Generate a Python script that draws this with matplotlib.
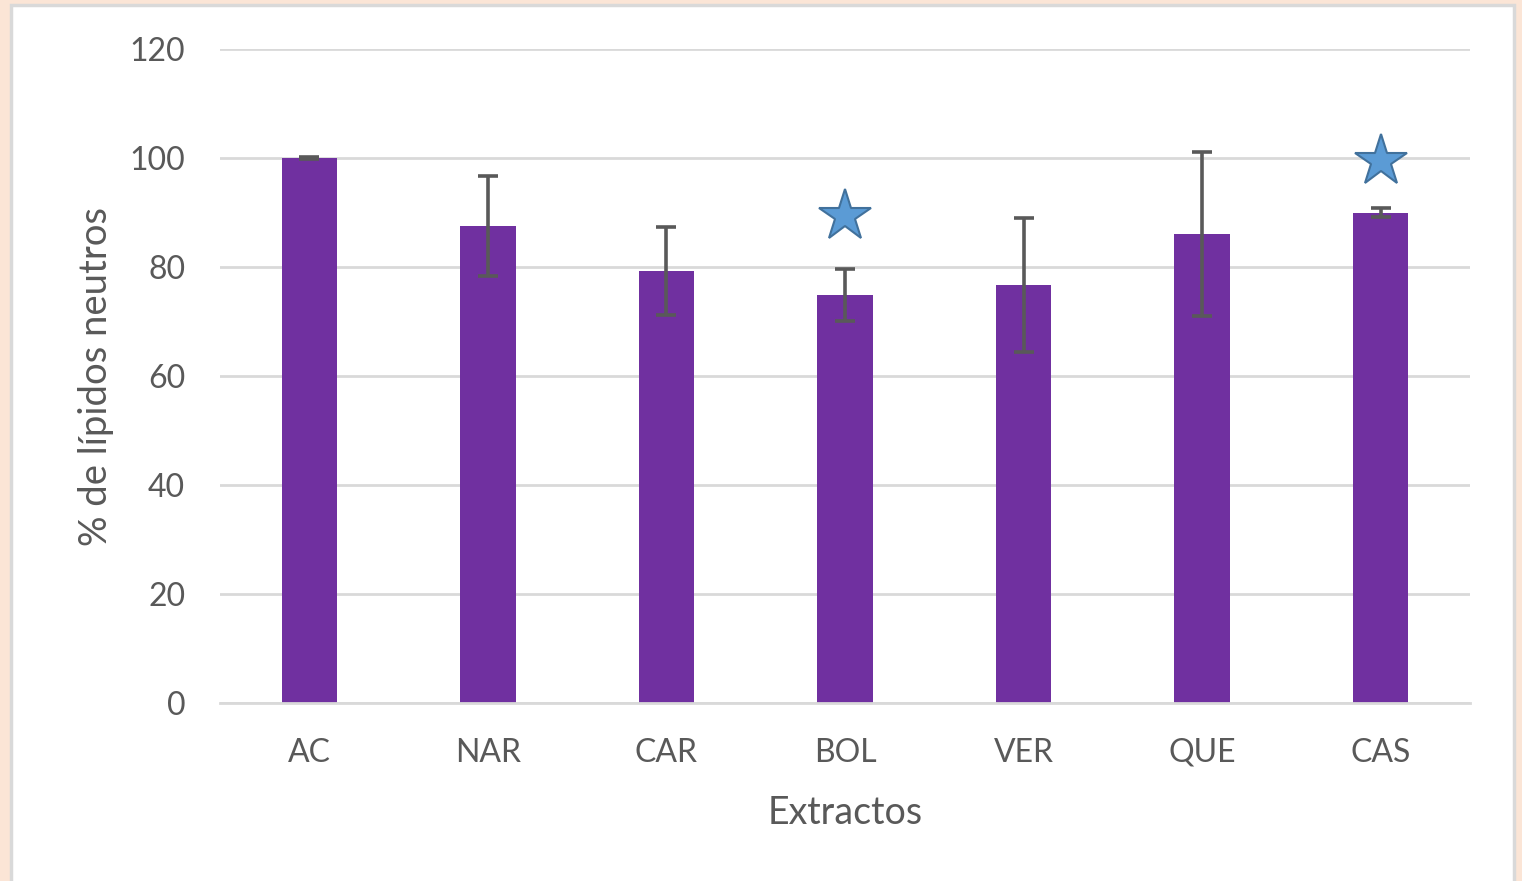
import matplotlib
matplotlib.use("Agg")
import matplotlib.pyplot as plt
from matplotlib.patches import Rectangle

# Data
extractos = ["AC", "NAR", "CAR", "BOL", "VER", "QUE", "CAS"]
lipidos = [100.0, 87.5, 79.3, 74.9, 76.7, 86.1, 90.0]
error = [0.2, 9.2, 8.1, 4.8, 12.3, 15.0, 0.9]
# significance stars: category and height
star_cats = ["BOL", "CAS"]
star_y = [89.4, 99.4]

yticks = [0, 20, 40, 60, 80, 100, 120]

plt.rcParams["font.family"] = ["Lato", "DejaVu Sans"]
text_color = "#595959"

fig = plt.figure(figsize=(15.22, 8.81), dpi=100)
fig.patch.set_facecolor("#FBE5D6")

# white chart panel with grey outline
panel = Rectangle((11 / 1522, -0.05), (1514 - 11) / 1522, 1.05 - 5 / 881,
                  transform=fig.transFigure, facecolor="white",
                  edgecolor="#D9D9D9", linewidth=2.5, zorder=-10)
fig.patches.append(panel)

ax = fig.add_axes([220 / 1522, (881 - 703) / 881, 1250 / 1522, 654 / 881])
ax.set_facecolor("none")

x = list(range(len(extractos)))
ax.bar(x, lipidos, width=0.31, color="#7030A0", zorder=2)
ax.errorbar(x, lipidos, yerr=error, fmt="none", ecolor="#595959",
            elinewidth=2.6, capsize=7.5, capthick=2.6, zorder=3)

sx = [extractos.index(c) for c in star_cats]
ax.plot(sx, star_y, linestyle="none", marker="*", markersize=39,
        markerfacecolor="#5B9BD5", markeredgecolor="#41719C",
        markeredgewidth=1.5, zorder=4)

ax.set_xlim(-0.5, len(extractos) - 0.5)
ax.set_ylim(0, 120)
ax.set_yticks(yticks)
ax.set_xticks(x)
ax.set_xticklabels(extractos)

ax.grid(axis="y", color="#D9D9D9", linewidth=2.0, zorder=1)
ax.set_axisbelow(True)
for side in ["top", "right", "left"]:
    ax.spines[side].set_visible(False)
ax.spines["bottom"].set_color("#D9D9D9")
ax.spines["bottom"].set_linewidth(2.0)

ax.tick_params(axis="both", length=0, labelsize=23, labelcolor=text_color)
ax.tick_params(axis="y", pad=25)
ax.tick_params(axis="x", pad=25)

ax.set_xlabel("Extractos", fontsize=27, color=text_color, labelpad=20)
ax.set_ylabel("% de lípidos neutros", fontsize=27.5, color=text_color, labelpad=11)

fig.savefig("out.png", dpi=100, facecolor=fig.get_facecolor())
